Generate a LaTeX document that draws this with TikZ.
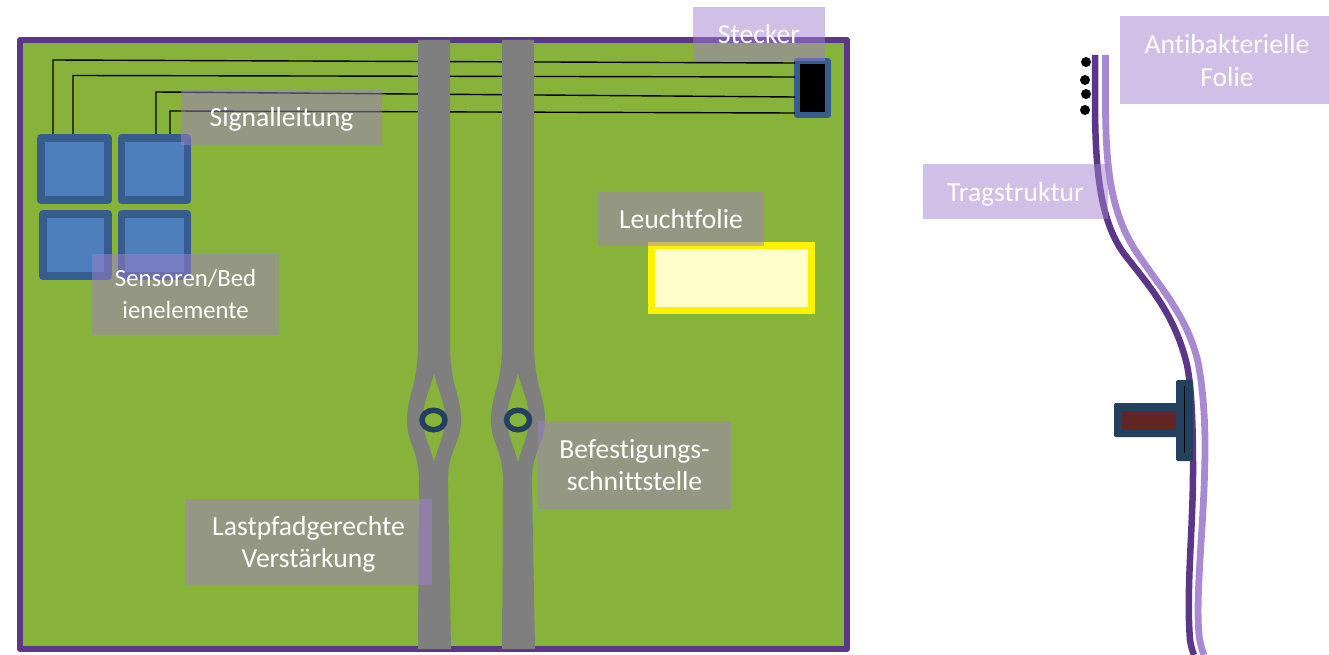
\documentclass[tikz,border=0pt]{standalone}
\usepackage{fontspec}
\setmainfont[Ligatures=NoCommon]{Carlito}
\definecolor{framepurple}{HTML}{5B3689}
\definecolor{lightpurple}{HTML}{A98AD2}
\definecolor{boardgreen}{HTML}{87B33A}
\definecolor{sensorblue}{HTML}{4C7FBC}
\definecolor{sensoredge}{HTML}{375D8E}
\definecolor{navy}{HTML}{24405F}
\definecolor{boltred}{HTML}{632523}
\definecolor{stripgray}{HTML}{7F7F7F}
\definecolor{lampfill}{HTML}{FFFFCC}
\definecolor{labelfill}{RGB}{161,127,205}
\tikzset{
  boardbox/.style={draw=framepurple,fill=boardgreen,line width=6pt,inner sep=0pt,line join=round},
  sensorbox/.style={draw=sensoredge,fill=sensorblue,line width=7.5pt,inner sep=0pt,line join=round,minimum height=62pt},
  plugbox/.style={draw=sensoredge,fill=black,line width=6pt,inner sep=0pt,line join=round,minimum width=31pt,minimum height=53.5pt},
  lampbox/.style={draw=yellow,fill=lampfill,line width=7pt,inner sep=0pt,minimum width=160pt,minimum height=65pt},
  signal/.style={draw=black,line width=1.4pt,line join=miter},
  tagbox/.style={fill=labelfill,fill opacity=.5,text opacity=1,text=white,inner sep=0pt,align=center,
    font=\fontsize{27.6}{32}\selectfont},
  ringmark/.style={draw=navy,fill=boardgreen,line width=5.5pt,inner sep=0pt,ellipse,minimum width=23pt,minimum height=19.5pt},
  carrier/.style={draw=framepurple,line width=6.5pt},
  foil/.style={draw=lightpurple,line width=6.8pt},
  dotmark/.style={fill=black,circle,inner sep=0pt,minimum size=10pt},
}
\usetikzlibrary{shapes.geometric}
\begin{document}
\begin{tikzpicture}[x=1pt,y=-1pt]
\useasboundingbox (0,0) rectangle (1329,655);
% board
\node[boardbox,minimum width=827pt,minimum height=609pt] (board) at (433.5,344.5) {};
% plug
\node[plugbox] (plug) at (812.5,88) {};
% signal lines
\coordinate (t1) at (53,60);  \coordinate (e1) at (795,63);
\coordinate (t2) at (73,75.5);  \coordinate (e2) at (795,77);
\coordinate (t3) at (156,92); \coordinate (e3) at (795,97);
\coordinate (t4) at (170,111);\coordinate (e4) at (795,113);
\coordinate (b1) at (53,138); \coordinate (b2) at (73,138);
\coordinate (b3) at (156,137);\coordinate (b4) at (170,137);
\draw[signal] (b1) -- (t1) -- (e1);
\draw[signal] (b2) -- (t2) -- (e2);
\draw[signal] (b3) -- (t3) -- (e3);
\draw[signal] (b4) -- (t4) -- (e4);
% reinforcement strips
\foreach \dx in {0,84}{
\begin{scope}[xshift=\dx pt]
\fill[stripgray,even odd rule]
  (418,40) -- (418,345) .. controls (418,385) and (407,395) .. (407,420)
  .. controls (407,445) and (420,450) .. (419,485) -- (418,649) -- (451,649) -- (448,485)
  .. controls (447,450) and (461,445) .. (461,420)
  .. controls (461,395) and (450,385) .. (450,345) -- (450,40) -- cycle
  (434,373) .. controls (430,390) and (423,402) .. (423,418)
  .. controls (423,434) and (430,447) .. (434,462)
  .. controls (438,447) and (445,434) .. (445,418)
  .. controls (445,402) and (438,390) .. (434,373) -- cycle;
\end{scope}}
\node[ringmark] (ringa) at (433.5,420) {};
\node[ringmark] (ringb) at (518,420) {};
% sensors
\node[sensorbox,minimum width=67pt] (s1) at (74.5,169) {};
\node[sensorbox,minimum width=66pt] (s2) at (154.5,169) {};
\node[sensorbox,minimum width=65pt] (s3) at (75.5,245) {};
\node[sensorbox,minimum width=66pt] (s4) at (154.5,245) {};
% lamp
\node[lampbox] (lamp) at (731.5,278) {};
% side view
\draw[carrier] (1095,55) -- (1095,100) .. controls (1095,170) and (1100,222) .. (1125,255)
  .. controls (1150,287) and (1175,315) .. (1187,365)
  .. controls (1192,390) and (1193,430) .. (1193,470)
  .. controls (1193,530) and (1186,590) .. (1190,640)
  .. controls (1191,646) and (1192,650) .. (1194,655);
\draw[foil] (1105.5,55) -- (1105.5,100) .. controls (1105.5,165) and (1110,210) .. (1135,250)
  .. controls (1158,285) and (1187,315) .. (1198,362)
  .. controls (1203,388) and (1205,420) .. (1205,445)
  .. controls (1205,520) and (1195,590) .. (1199,635)
  .. controls (1200,643) and (1202,650) .. (1204,655);
\node[dotmark] (d1) at (1086,62) {};
\node[dotmark] (d2) at (1085,80) {};
\node[dotmark] (d3) at (1086,94) {};
\node[dotmark] (d4) at (1085,110) {};
% fastener
\fill[navy,rounded corners=1.5pt] (1114,403) rectangle (1180,437);
\fill[boltred] (1122,411) rectangle (1177,430);
\fill[navy,rounded corners=2pt] (1176,380) rectangle (1193,461);
\draw[black,line width=1.2pt] (1184.5,386) -- (1184.5,453);
% labels
\node[tagbox,minimum width=132pt,minimum height=54pt] (stecker) at (759,34) {Stecker};
\node[tagbox,minimum width=201pt,minimum height=55pt] (signalltg) at (281.5,117.5) {\rule{0pt}{23pt}Signalleitung};
\node[tagbox,minimum width=187pt,minimum height=81pt,font=\fontsize{24.7}{32}\selectfont] (sensoren) at (185.5,294.5) {Sensoren/Bed\\ienelemente};
\node[tagbox,minimum width=166pt,minimum height=54pt] (leucht) at (681,219) {Leuchtfolie};
\node[tagbox,minimum width=193pt,minimum height=88pt] (befest) at (634.5,465) {Befestigungs-\\schnittstelle};
\node[tagbox,minimum width=247pt,minimum height=86pt] (lastpfad) at (308.5,542) {\rule{0pt}{23pt}Lastpfadgerechte\\Verstärkung};
\node[tagbox,minimum width=209pt,minimum height=88pt,font=\fontsize{27.6}{33}\selectfont] (antibak) at (1224.5,60) {\hspace*{5pt}\rule{0pt}{21pt}Antibakterielle\\\hspace*{5pt}Folie};
\node[tagbox,minimum width=185pt,minimum height=55pt] (trag) at (1015.5,191.5) {\rule{0pt}{24pt}Tragstruktur};
\end{tikzpicture}
\end{document}
